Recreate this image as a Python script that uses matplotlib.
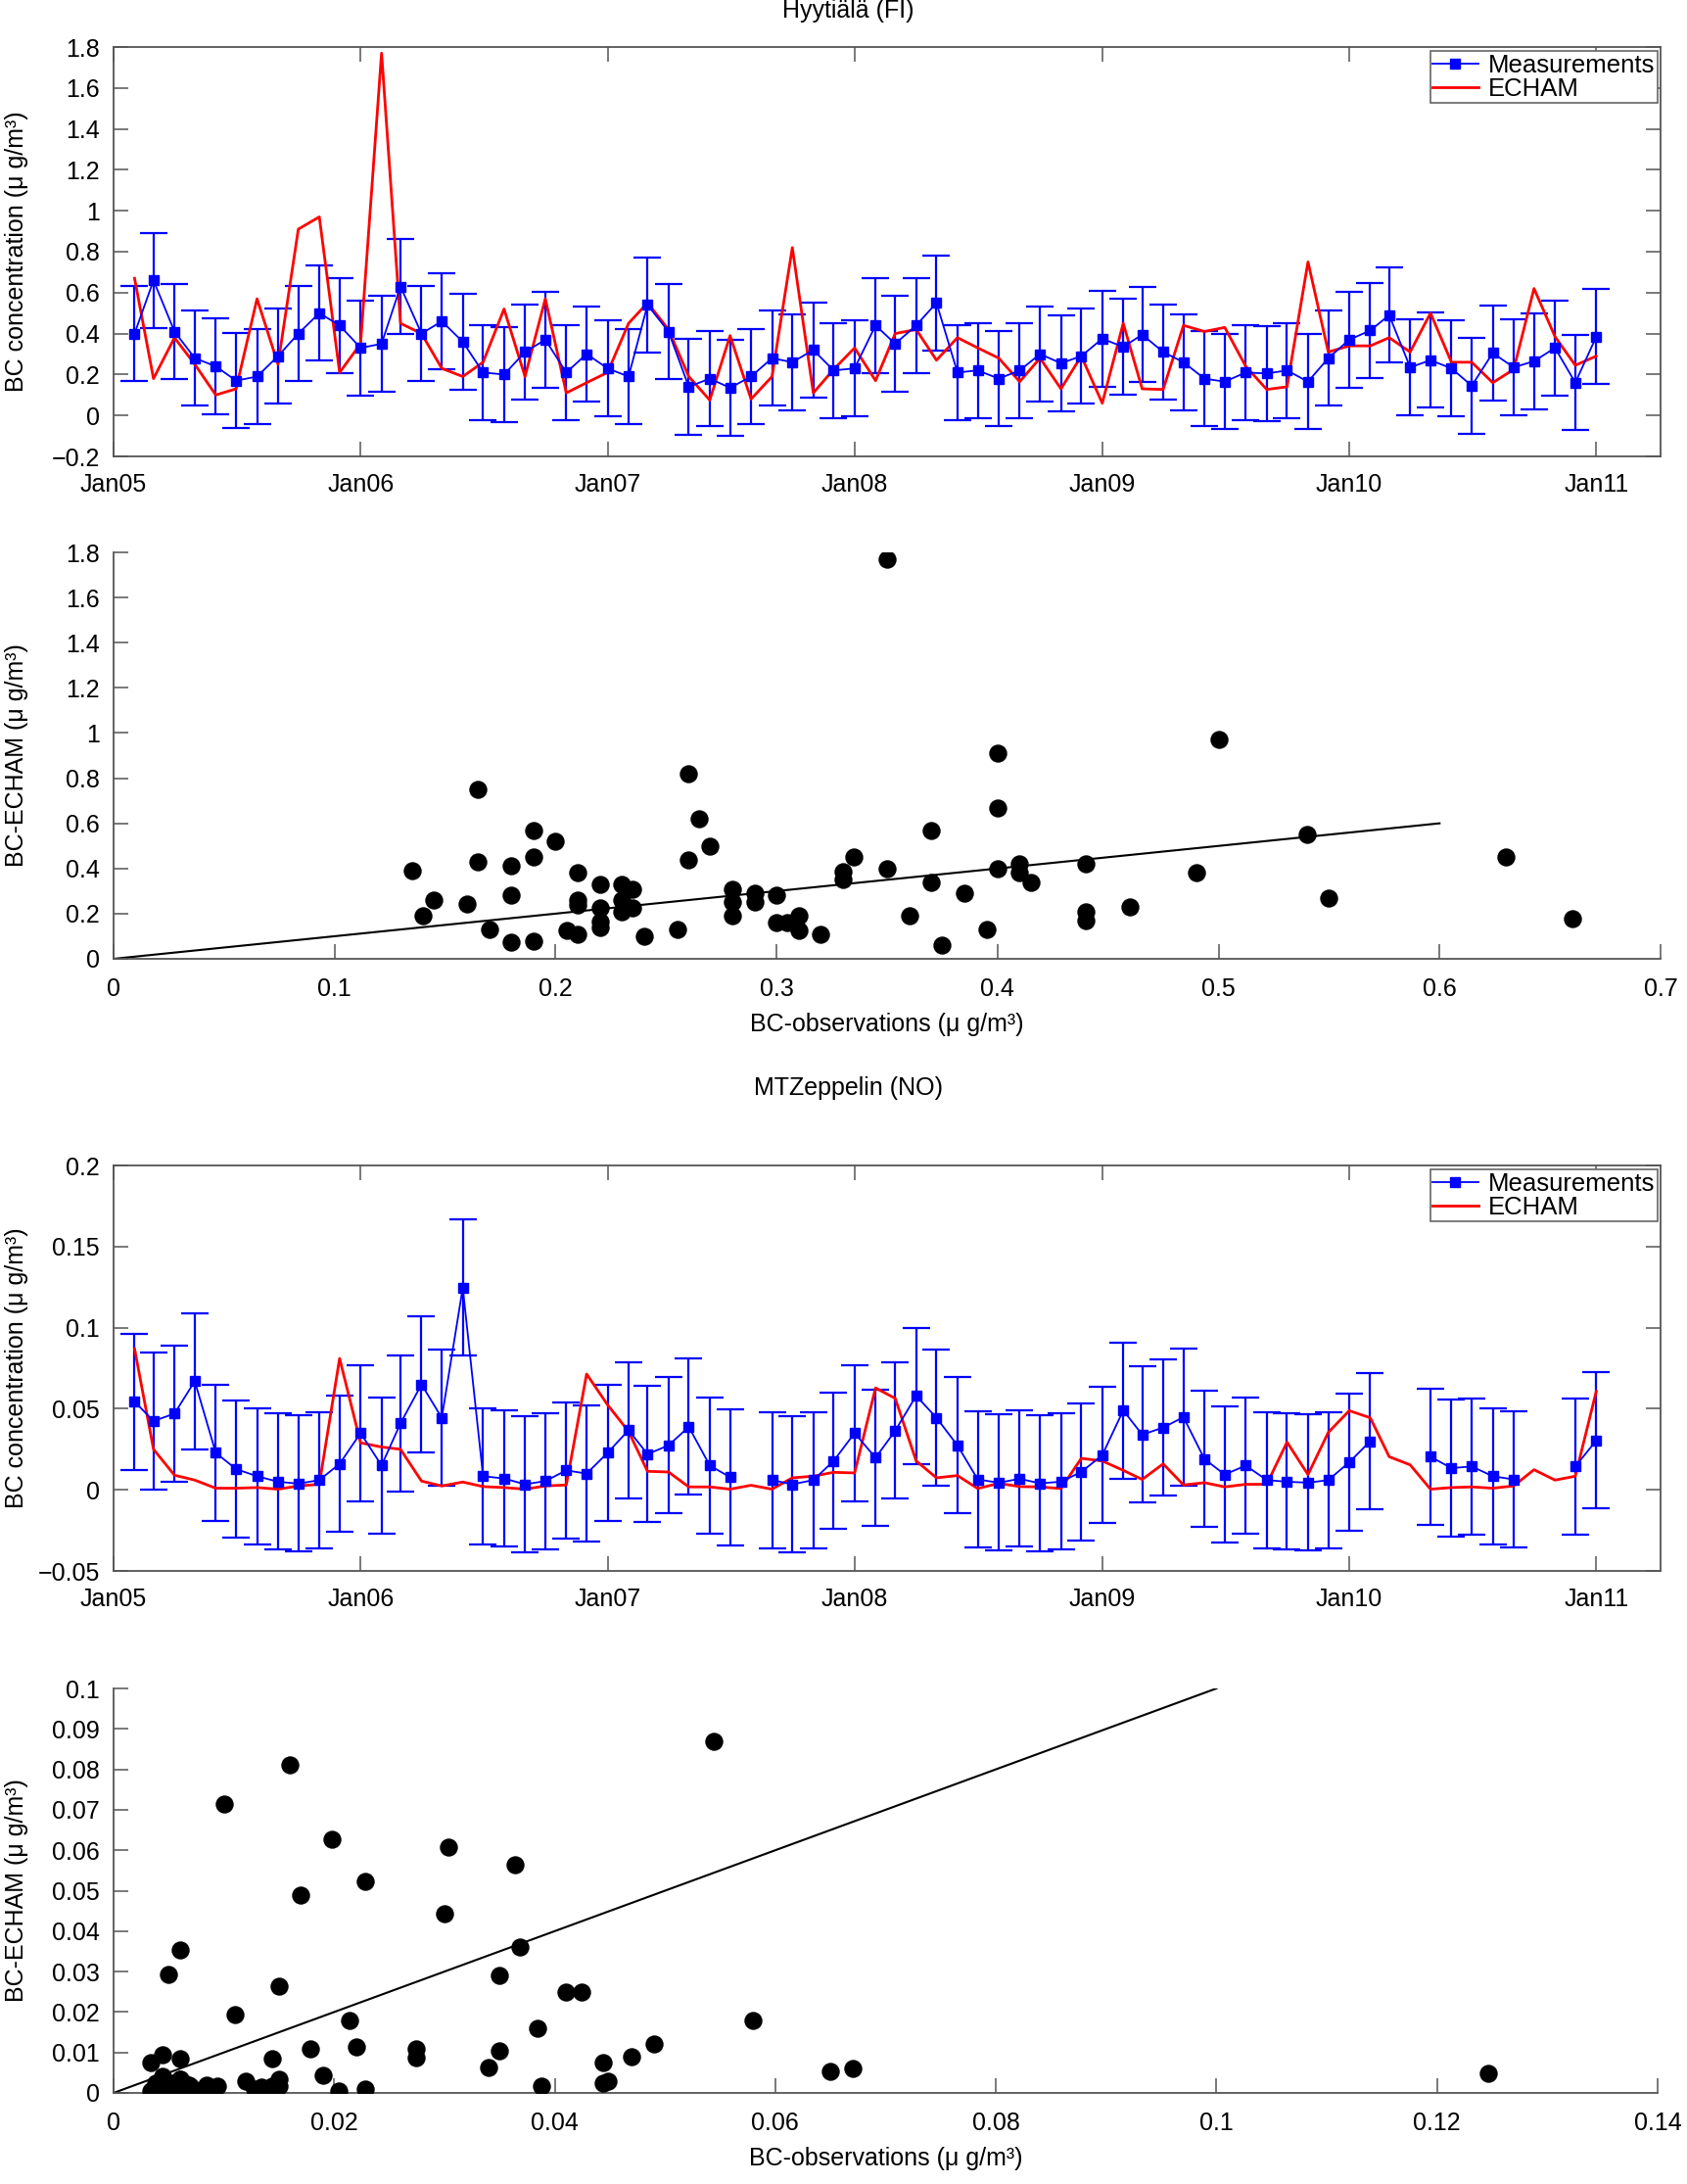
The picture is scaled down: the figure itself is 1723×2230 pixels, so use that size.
import matplotlib
matplotlib.use('Agg')
import matplotlib.pyplot as plt
import matplotlib.ticker as mticker
from matplotlib.lines import Line2D
import numpy as np
import pandas as pd

plt.rcParams['font.family'] = ['Liberation Sans', 'DejaVu Sans']
plt.rcParams['font.size'] = 18

# monthly values, Feb 2005 .. Jan 2011
months = pd.date_range('2005-02-01', periods=72, freq='MS')
year_ticks = pd.date_range('2005-01-01', '2011-01-01', freq='YS')
year_labels = ['Jan05', 'Jan06', 'Jan07', 'Jan08', 'Jan09', 'Jan10', 'Jan11']

hy_meas = [0.40, 0.66, 0.41, 0.28, 0.24, 0.17, 0.19, 0.29, 0.40, 0.50, 0.44, 0.33,
           0.35, 0.63, 0.40, 0.46, 0.36, 0.21, 0.20, 0.31, 0.37, 0.21, 0.30, 0.23,
           0.19, 0.54, 0.41, 0.14, 0.18, 0.135, 0.19, 0.28, 0.26, 0.32, 0.22, 0.23,
           0.44, 0.35, 0.44, 0.55, 0.21, 0.22, 0.18, 0.22, 0.30, 0.255, 0.29, 0.375,
           0.335, 0.395, 0.31, 0.26, 0.18, 0.165, 0.21, 0.205, 0.22, 0.165, 0.28, 0.37,
           0.415, 0.49, 0.235, 0.27, 0.23, 0.145, 0.305, 0.235, 0.265, 0.33, 0.16, 0.385]
hy_echam = [0.67, 0.18, 0.38, 0.25, 0.10, 0.13, 0.57, 0.25, 0.91, 0.97, 0.21, 0.35,
            1.77, 0.45, 0.40, 0.23, 0.19, 0.26, 0.52, 0.19, 0.57, 0.11, 0.16, 0.21,
            0.45, 0.55, 0.42, 0.19, 0.075, 0.39, 0.08, 0.19, 0.82, 0.11, 0.225, 0.33,
            0.17, 0.40, 0.42, 0.27, 0.38, 0.33, 0.28, 0.165, 0.28, 0.13, 0.29, 0.06,
            0.45, 0.13, 0.127, 0.44, 0.41, 0.43, 0.24, 0.127, 0.14, 0.75, 0.31, 0.34,
            0.34, 0.38, 0.31, 0.50, 0.26, 0.26, 0.16, 0.225, 0.62, 0.385, 0.245, 0.29]
hy_err = 0.233

nan = np.nan
zep_meas = [0.0544, 0.0424, 0.047, 0.067, 0.0228, 0.0128, 0.0084, 0.005, 0.0038, 0.006, 0.016, 0.035,
            0.015, 0.041, 0.065, 0.0444, 0.1246, 0.0084, 0.007, 0.0034, 0.0054, 0.012, 0.010, 0.0228,
            0.0368, 0.022, 0.0274, 0.0388, 0.015, 0.0078, nan, 0.006, 0.0034, 0.006, 0.0178, 0.035,
            0.0198, 0.0364, 0.058, 0.0444, 0.0274, 0.0064, 0.0044, 0.0068, 0.004, 0.005, 0.011, 0.0214,
            0.049, 0.034, 0.0384, 0.0448, 0.019, 0.0094, 0.015, 0.006, 0.005, 0.0044, 0.006, 0.017,
            0.030, nan, nan, 0.0204, 0.0134, 0.0144, 0.0084, 0.0064, nan, nan, 0.0144, 0.0304]
zep_echam = [0.087, 0.025, 0.009, 0.006, 0.001, 0.001, 0.0014, 0.0004, 0.0024, 0.0034, 0.081, 0.029,
             0.0264, 0.025, 0.0054, 0.0024, 0.0048, 0.002, 0.0014, 0.0004, 0.0024, 0.003, 0.0714, 0.0524,
             0.036, 0.0114, 0.011, 0.0018, 0.0018, 0.0004, 0.0028, 0.0004, 0.0074, 0.0084, 0.0108, 0.0104,
             0.0628, 0.0564, 0.0178, 0.0074, 0.0088, 0.0008, 0.004, 0.002, 0.0018, 0.0008, 0.0194, 0.0178,
             0.012, 0.0064, 0.016, 0.003, 0.0044, 0.0018, 0.0034, 0.0034, 0.0294, 0.0094, 0.0354, 0.0488,
             0.0444, 0.0204, 0.0154, 0.0004, 0.0014, 0.0018, 0.001, 0.0024, 0.0124, 0.006, 0.0084, 0.0608]
zep_err = 0.042

W, H = 1723, 2230
fig = plt.figure(figsize=(W / 100, H / 100), dpi=100)
fmt = mticker.FuncFormatter(lambda v, p: ('%g' % round(v, 6)).replace('-', '\u2212'))
SPINE = '#555555'
UNIT = ' (\u03bc g/m\u00b3)'


def box(l, t, r, b):
    return fig.add_axes([l / W, 1 - b / H, (r - l) / W, (b - t) / H])


def timeseries(ax, meas, echam, err, ylim, yticks):
    ax.errorbar(months, meas, yerr=err, color='blue', lw=1.3, elinewidth=1.6,
                capsize=10, capthick=1.6, marker='s', ms=7)
    ax.plot(months, echam, color='red', lw=2.0)
    ax.set_xlim(pd.Timestamp('2005-01-01'), pd.Timestamp('2011-04-06'))
    ax.set_ylim(*ylim)
    ax.set_xticks(year_ticks, labels=year_labels)
    ax.set_yticks(yticks)
    ax.yaxis.set_major_formatter(fmt)
    ax.tick_params(direction='in', length=11, width=1.1, color=SPINE,
                   top=True, right=True, pad=10)
    ax.tick_params(axis='x', pad=12)
    for s in ax.spines.values():
        s.set_color(SPINE)
        s.set_linewidth(1.3)
    ax.set_ylabel('BC concentration' + UNIT)
    ax.yaxis.set_label_coords(-0.055, 0.5)
    handles = [Line2D([], [], color='blue', lw=1.3, marker='s', ms=7),
               Line2D([], [], color='red', lw=2.0)]
    leg = ax.legend(handles, ['Measurements', 'ECHAM'], loc='upper right',
                    bbox_to_anchor=(0.998, 0.99), fontsize=18.5,
                    fancybox=False, framealpha=1, edgecolor='#666666',
                    borderpad=0.1, labelspacing=0.0, handlelength=1.8,
                    handletextpad=0.4, borderaxespad=0.0)
    leg.get_frame().set_linewidth(1.2)


def scatter(ax, meas, echam, xlim, xticks, ylim, yticks, one_to_one):
    ax.scatter(meas, echam, s=150, color='black', zorder=3)
    ax.plot([0, one_to_one], [0, one_to_one], color='black', lw=1.5)
    ax.set_xlim(*xlim)
    ax.set_ylim(*ylim)
    ax.set_xticks(xticks)
    ax.set_yticks(yticks)
    ax.xaxis.set_major_formatter(fmt)
    ax.yaxis.set_major_formatter(fmt)
    ax.spines['top'].set_visible(False)
    ax.spines['right'].set_visible(False)
    for s in ('left', 'bottom'):
        ax.spines[s].set_color(SPINE)
        ax.spines[s].set_linewidth(1.3)
    ax.tick_params(direction='in', length=11, width=1.1, color=SPINE, pad=10)
    ax.tick_params(axis='x', pad=14)
    ax.set_ylabel('BC-ECHAM' + UNIT)
    ax.yaxis.set_label_coords(-0.055, 0.5)
    ax.set_xlabel('BC-observations' + UNIT, labelpad=8)


ax1 = box(116, 48, 1696, 466)
timeseries(ax1, hy_meas, hy_echam, hy_err, (-0.2, 1.8), np.arange(-0.2, 1.81, 0.2))

ax2 = box(116, 564, 1696, 979)
scatter(ax2, hy_meas, hy_echam, (0, 0.7), np.arange(0, 0.71, 0.1),
        (0, 1.8), np.arange(0, 1.81, 0.2), 0.6)

ax3 = box(116, 1190, 1696, 1604)
timeseries(ax3, zep_meas, zep_echam, zep_err, (-0.05, 0.2), np.arange(-0.05, 0.201, 0.05))

ax4 = box(116, 1724, 1693, 2137)
scatter(ax4, zep_meas, zep_echam, (0, 0.14), np.arange(0, 0.141, 0.02),
        (0, 0.1), np.arange(0, 0.101, 0.01), 0.1)

fig.text(0.503, 1 - 11 / H, 'Hyyti\u00e4l\u00e4 (FI)', ha='center', va='center', fontsize=18)
fig.text(0.503, 1 - 1111 / H, 'MTZeppelin (NO)', ha='center', va='center', fontsize=18)

fig.savefig('out.png', dpi=100, facecolor='white')
